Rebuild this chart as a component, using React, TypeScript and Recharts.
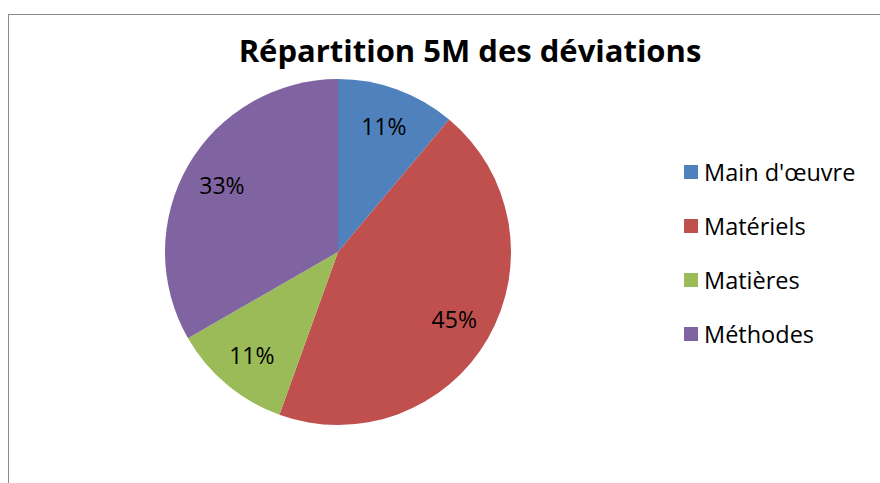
import { Cell, Legend, Pie, PieChart } from "recharts";

const categories = ["Main d'œuvre", "Matériels", "Matières", "Méthodes"];
const shares = [11.1, 44.4, 11.2, 33.3];
const shareLabels = ["11%", "45%", "11%", "33%"];
const colors = ["#4F81BD", "#C0504D", "#9BBB59", "#8064A2"];

const data = categories.map((name, i) => ({
  name,
  value: shares[i],
  label: shareLabels[i],
}));

const FONT = "'Open Sans', 'DejaVu Sans', sans-serif";
const RADIAN = Math.PI / 180;

function renderLabel(props: any) {
  const { cx, cy, midAngle, outerRadius, index } = props;
  const r = outerRadius * 0.775;
  const x = cx + r * Math.cos(-midAngle * RADIAN);
  const y = cy + r * Math.sin(-midAngle * RADIAN);
  return (
    <text
      x={x}
      y={y}
      fill="#000"
      textAnchor="middle"
      dominantBaseline="central"
      style={{ fontFamily: FONT, fontSize: 23 }}
    >
      {data[index].label}
    </text>
  );
}

function LegendList() {
  return (
    <div style={{ fontFamily: FONT, fontSize: 23.5, color: "#000" }}>
      {data.map((d, i) => (
        <div
          key={d.name}
          style={{ display: "flex", alignItems: "center", height: 54 }}
        >
          <span
            style={{
              width: 14,
              height: 14,
              background: colors[i],
              marginRight: 6,
              display: "inline-block",
            }}
          />
          <span>{d.name}</span>
        </div>
      ))}
    </div>
  );
}

export default function App() {
  return (
    <div
      style={{
        position: "absolute",
        left: 0,
        top: 0,
        width: 880,
        height: 483,
        overflow: "hidden",
        background: "#fff",
      }}
    >
      <div
        style={{
          position: "absolute",
          left: 8,
          top: 14,
          width: 1000,
          height: 600,
          border: "1px solid #8a8a8a",
        }}
      />
      <div
        style={{
          position: "absolute",
          left: 0,
          width: 940,
          top: 30,
          textAlign: "center",
          fontFamily: FONT,
          fontWeight: 700,
          fontSize: 31,
          color: "#000",
          lineHeight: "40px",
        }}
      >
        Répartition 5M des déviations
      </div>
      <div style={{ position: "absolute", left: 0, top: 0 }}>
        <PieChart
          width={880}
          height={483}
          margin={{ top: 0, right: 0, bottom: 0, left: 0 }}
        >
          <Pie
            data={data}
            dataKey="value"
            nameKey="name"
            cx={338}
            cy={252}
            outerRadius={173}
            startAngle={90}
            endAngle={-270}
            stroke="none"
            label={renderLabel}
            labelLine={false}
            isAnimationActive={false}
          >
            {data.map((d, i) => (
              <Cell key={d.name} fill={colors[i]} />
            ))}
          </Pie>
          <Legend
            layout="vertical"
            align="right"
            verticalAlign="top"
            content={() => <LegendList />}
            wrapperStyle={{ left: 684, top: 145, width: 196 }}
          />
        </PieChart>
      </div>
    </div>
  );
}
